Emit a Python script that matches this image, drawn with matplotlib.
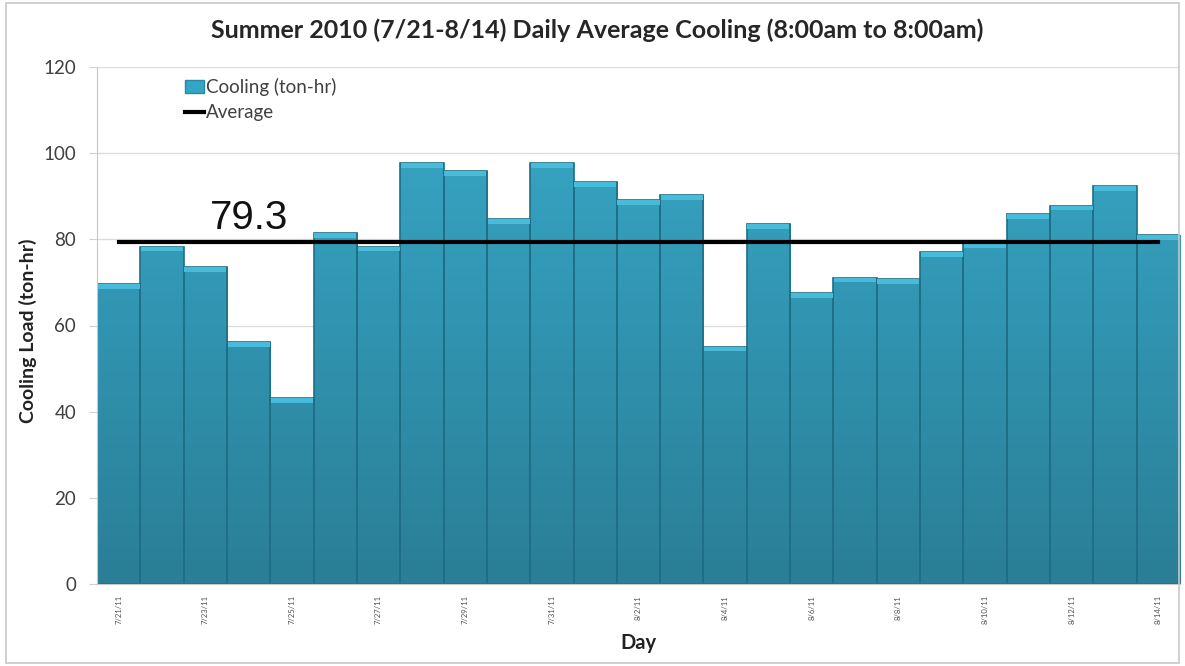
"""
Summer 2010 daily average cooling load bar chart with average line.
"""

import numpy as np
import matplotlib
matplotlib.use('Agg')
import matplotlib.pyplot as plt
from matplotlib.colors import LinearSegmentedColormap
from matplotlib.lines import Line2D
from matplotlib.patches import Patch

days = ['7/21/11', '7/22/11', '7/23/11', '7/24/11', '7/25/11', '7/26/11', '7/27/11',
        '7/28/11', '7/29/11', '7/30/11', '7/31/11', '8/1/11', '8/2/11', '8/3/11',
        '8/4/11', '8/5/11', '8/6/11', '8/7/11', '8/8/11', '8/9/11', '8/10/11',
        '8/11/11', '8/12/11', '8/13/11', '8/14/11']
cooling = [69.6, 78.3, 73.6, 56.2, 43.2, 81.5, 78.3, 97.7, 95.9, 84.7, 97.7, 93.3,
           89.1, 90.3, 55.1, 83.5, 67.5, 71.1, 70.8, 77.1, 79.1, 85.8, 87.8, 92.3, 80.9]
average_label = '79.3'
average = float(average_label)

plt.rcParams['font.family'] = ['Lato', 'DejaVu Sans']

fig = plt.figure(figsize=(11.85, 6.66), dpi=100)
ax = fig.add_axes([97 / 1185, 1 - 584 / 666, 1083 / 1185, 517 / 666])

x = np.arange(len(days))
bars = ax.bar(x, cooling, width=1.0, color='#2f9bb9', linewidth=0, zorder=2)

# vertical gradient inside each bar
cmap = LinearSegmentedColormap.from_list('teal', ['#2a7e96', '#38aaca'])
grad = np.linspace(0, 1, 256).reshape(-1, 1)
for b, v in zip(bars, cooling):
    im = ax.imshow(grad, extent=[b.get_x(), b.get_x() + b.get_width(), 0, 120],
                   origin='lower', cmap=cmap, aspect='auto', zorder=2.1)
    im.set_clip_path(b)
    ax.bar(b.get_x() + 0.5, v, width=1.0, fill=False, edgecolor='#1e6e86',
           linewidth=1.2, zorder=2.3)
    # light top highlight
    ax.bar(b.get_x() + 0.5, 1.1, bottom=v - 1.1, width=0.97, color='#47bbd9',
           linewidth=0, zorder=2.4)

ax.plot(x, [average] * len(days), color='black', linewidth=3, zorder=3)
ax.text(3, average + 1.2, average_label, fontsize=29, ha='center', va='bottom',
        family=['Liberation Sans', 'DejaVu Sans'], color='#111111', zorder=4)

ax.set_xlim(-0.5, len(days) - 0.5)
ax.set_ylim(0, 120)
ax.set_yticks(range(0, 121, 20))
ax.tick_params(axis='y', labelsize=13.5, labelcolor='#404040', length=6, pad=9,
               color='#d0d0d0')
ax.set_xticks(x[::2])
ax.set_xticklabels(days[::2], rotation=90, fontsize=5.5, color='#505050')
ax.tick_params(axis='x', length=0, pad=8)
ax.grid(axis='y', color='#dcdcdc', linewidth=1, zorder=0)
ax.set_axisbelow(True)
for s in ['top', 'right']:
    ax.spines[s].set_visible(False)
ax.spines['left'].set_color('#c8c8c8')
ax.spines['bottom'].set_color('#c8c8c8')

ax.set_xlabel('Day', fontsize=14.5, fontweight='bold', color='#222222', labelpad=6)
ax.set_ylabel('Cooling Load (ton-hr)', fontsize=14, fontweight='bold',
              color='#222222', labelpad=-2)
ax.yaxis.set_label_coords(-0.055, 0.49)
fig.suptitle('Summer 2010 (7/21-8/14) Daily Average Cooling (8:00am to 8:00am)',
             x=0.504, y=0.972, fontsize=18, fontweight='bold', color='#262626')

handles = [Patch(facecolor='#34a5c4', edgecolor='#2b88a3', label='Cooling (ton-hr)'),
           Line2D([0], [0], color='black', linewidth=3, label='Average')]
ax.legend(handles=handles, loc='upper left', bbox_to_anchor=(0.066, 1.012), frameon=False,
          fontsize=13.5, labelcolor='#404040', handlelength=1.0, handletextpad=0.1,
          labelspacing=0.45)

# thin outer border like the source image
fig.patches.append(plt.Rectangle((0.005, 0.005), 0.99, 0.99, transform=fig.transFigure,
                                 fill=False, edgecolor='#c8c8c8', linewidth=1.2))

plt.savefig('out.png', dpi=100)
plt.close()
